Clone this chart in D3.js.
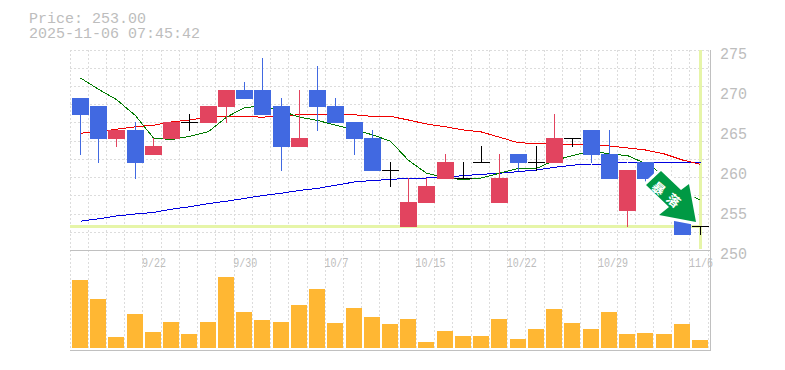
<!DOCTYPE html>
<html><head><meta charset="utf-8"><script src="https://cdn.jsdelivr.net/npm/d3@7/dist/d3.min.js"></script>
<style>html,body{margin:0;padding:0;background:#fff}svg{display:block}text{font-family:"Liberation Mono",monospace}</style></head>
<body><script>
const titleLines=["Price: 253.00","2025-11-06 07:45:42"];
const dates=["9/16","9/17","9/18","9/19","9/22","9/24","9/25","9/26","9/29","9/30","10/1","10/2","10/3","10/6","10/7","10/8","10/9","10/10","10/14","10/15","10/16","10/17","10/20","10/21","10/22","10/23","10/24","10/27","10/28","10/29","10/30","10/31","11/4","11/5","11/6"];
const dateTicks=["9/22","9/30","10/7","10/15","10/22","10/29","11/6"];
const priceTicks=[250,255,260,265,270,275];
const opens =[269,268,264,265,262,264,266,266,268,270,270,268,263,270,268,266,264,260,253,256,259,259,261,256,262,261,261,264,265,262,255,261,258,254,253];
const highs =[269,268,265,266,264,266,267,268,270,271,274,269,270,273,269,266,265,261,259,259,262,261,263,262,262,263,267,264,265,265,260,261,258,254,253];
const lows  =[262,261,263,259,262,264,265,266,266,269,267,260,263,265,266,262,260,258,253,256,259,259,261,256,260,260,261,263,261,259,253,258,257,252,252];
const closes=[267,264,265,261,263,266,266,268,270,269,267,263,264,268,266,264,260,260,256,258,261,259,261,259,261,261,264,264,262,259,260,259,257,252,253];
const shortAvg=[271.5,270.1,268.8,266.8,264,263.8,264.2,264.8,266.6,267.8,268,267.4,266.6,266.2,265.6,265,264.4,263.6,261.2,259.6,259,258.8,259,259.6,260.2,260.2,261.2,261.8,262.4,262,261.8,260.8,259.4,257.4,256.2];
const midAvg=[264.6,264.75,265.1,265.4,265.6,266,266.25,266.6,266.7,266.7,266.6,266.8,266.9,267,267,266.9,266.7,266.7,266.25,265.75,265.4,265,264.75,264.1,263.4,263.33,263.25,263.2,263.2,263,262.75,262.5,262,261.25,260.7];
const longAvg=[253.6,253.9,254.25,254.5,254.7,255.1,255.4,255.8,256.1,256.45,256.8,257.1,257.45,257.7,258.1,258.5,258.7,258.8,259,259,259.1,259.3,259.45,259.6,259.8,260,260.33,260.6,260.75,260.75,261,261,261,261,261];
const volumes=[68,49,11,34,16,26,14,26,71,36,28,26,43,59,25,40,31,24,29,6,17,12,12,29,9,19,39,25,19,36,14,15,14,24,8];
const lastPrice=253;
const signalText="暴落";

const W=785,H=370,L=70,R=710,T=50,M=250,B=350;
const step=18.235,count=dates.length;
const x=d3.scaleBand().domain(dates).range([L,L+step*count]);
const y=d3.scaleLinear().domain([250,275]).range([M,T]);
const yV=d3.scaleLinear().domain([0,100]).range([B-2,B-102]);
const left=d=>Math.round(x(d)+2), mid=d=>left(d)+8;
const gridCol="#dcdcdc",axisCol="#c0c0c0",textCol="#bdbdbd";
const svg=d3.select("body").append("svg").attr("width",W).attr("height",H);
const crisp=svg.append("g").attr("shape-rendering","crispEdges");

// grid
const gv=d3.range(0,count+1).map(i=>Math.floor(L+i*step));
const gh=d3.range(0,11).map(i=>Math.floor(T+i*step));
crisp.selectAll(".gv").data(gv).join("line").attr("x1",d=>d+.5).attr("x2",d=>d+.5).attr("y1",T).attr("y2",B)
 .attr("stroke",gridCol).attr("stroke-dasharray","2,2");
crisp.selectAll(".gh").data(gh).join("line").attr("y1",d=>d+.5).attr("y2",d=>d+.5).attr("x1",L).attr("x2",R)
 .attr("stroke",gridCol).attr("stroke-dasharray","2,2");

// last-price guides
const lastX=mid(dates[count-1]);
crisp.append("rect").attr("x",L).attr("width",lastX+2-L).attr("y",y(lastPrice)-1).attr("height",3).attr("fill","#e6f5a8");
crisp.append("rect").attr("x",lastX-1).attr("width",3).attr("y",T).attr("height",M-T-1).attr("fill","#e6f5a8");

// axes frame
crisp.append("line").attr("x1",L).attr("x2",R+1).attr("y1",M+.5).attr("y2",M+.5).attr("stroke",axisCol).attr("stroke-width",1.5);
crisp.append("line").attr("x1",L).attr("x2",R+1).attr("y1",B+.5).attr("y2",B+.5).attr("stroke",axisCol).attr("stroke-width",1.5);
crisp.append("line").attr("x1",R+.5).attr("x2",R+.5).attr("y1",T).attr("y2",B+1).attr("stroke",axisCol);

// volume
crisp.selectAll(".v").data(dates).join("rect").attr("x",d=>left(d)).attr("width",16)
 .attr("y",(d,i)=>yV(volumes[i])).attr("height",(d,i)=>yV(0)-yV(volumes[i])).attr("fill","#ffb733");

// moving averages
const line=d3.line().x((d,i)=>mid(dates[i])+.5).y(d=>y(d));
[[longAvg,"#0000e0"],[midAvg,"#f00000"],[shortAvg,"#007a00"]].forEach(([a,c])=>{
 crisp.append("path").attr("d",line(a)).attr("fill","none").attr("stroke",c).attr("stroke-width",1);
});

// candles
const col=i=>closes[i]>opens[i]?"#e2445f":closes[i]<opens[i]?"#4169e1":"#000";
crisp.selectAll(".w").data(dates).join("line").attr("x1",d=>mid(d)+.5).attr("x2",d=>mid(d)+.5)
 .attr("y1",(d,i)=>y(highs[i])).attr("y2",(d,i)=>y(lows[i])+1).attr("stroke",(d,i)=>col(i));
crisp.selectAll(".b").data(dates).join("rect").attr("x",d=>left(d)).attr("width",17)
 .attr("y",(d,i)=>y(Math.max(opens[i],closes[i])))
 .attr("height",(d,i)=>Math.abs(y(opens[i])-y(closes[i]))+1).attr("fill",(d,i)=>col(i));

// signal arrow, anchored on the candle it marks
const ax=mid(dates[32]),ay=y(257);
const arrow=svg.append("g").attr("transform",`translate(${ax},${ay})`);
const arrowShape="-3,-23 17,-4 25,-10 32,28 -5,21 5,13 -18,-9";
arrow.append("polygon").attr("points",arrowShape).attr("fill","#fff").attr("stroke","#fff").attr("stroke-width",6).attr("stroke-linejoin","round");
arrow.append("polygon").attr("points",arrowShape).attr("fill","#009944");
arrow.selectAll("text").data([...signalText]).join("text").text(d=>d)
 .attr("transform",(d,i)=>`translate(${-5+i*15},${-6+i*12}) rotate(40)`)
 .attr("text-anchor","middle").attr("dominant-baseline","central")
 .attr("fill","#fff").attr("font-size",13).attr("font-weight",700)
 .style("font-family",'"Noto Sans CJK JP"');

// labels
svg.selectAll(".t").data(titleLines).join("text").text(d=>d).attr("x",29).attr("y",(d,i)=>23+i*15)
 .attr("font-size",15).attr("fill",textCol);
const ya=svg.append("g").attr("transform",`translate(${R+3},0)`).call(d3.axisRight(y).tickValues(priceTicks).tickSize(0).tickFormat(d3.format("d")));
ya.select(".domain").remove();
ya.selectAll("text").attr("x",7).attr("dy",0).attr("y",8).attr("font-size",16).attr("textLength",27).attr("lengthAdjust","spacingAndGlyphs").attr("fill",textCol).style("font-family",'"Liberation Mono"');
const xa=svg.append("g").attr("transform",`translate(0,${M})`).call(d3.axisBottom(x).tickValues(dateTicks).tickSize(0));
xa.select(".domain").remove();
xa.selectAll("text").attr("text-anchor","start").attr("x",-10).attr("dy",0).attr("y",17).attr("font-size",12).attr("textLength",d=>d.length*6).attr("lengthAdjust","spacingAndGlyphs").attr("fill",textCol).style("font-family",'"Liberation Mono"');
</script></body></html>
